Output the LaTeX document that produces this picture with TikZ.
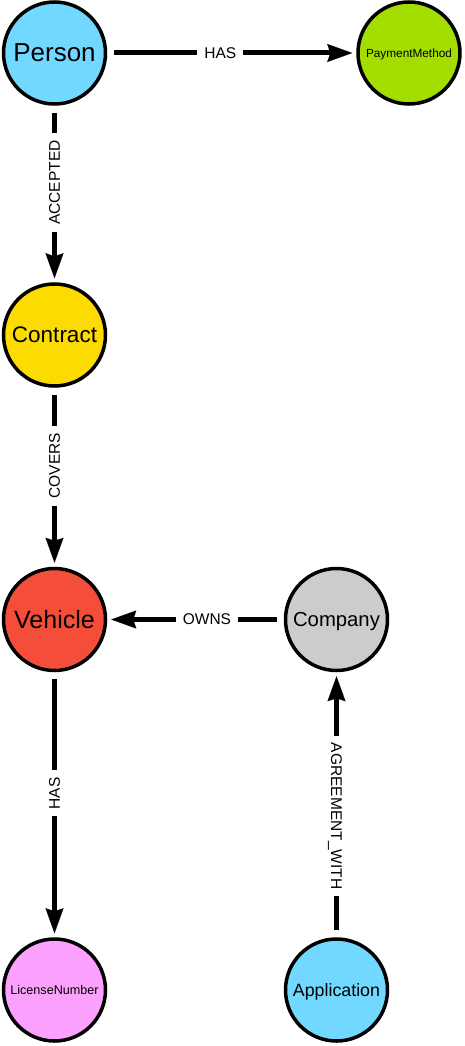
\documentclass[tikz,border=0pt]{standalone}
\usepackage{fontspec}
\setmainfont{Liberation Sans}
\usepackage{xcolor}
\usepackage{tikz}
\usetikzlibrary{arrows.meta, positioning}

\definecolor{nodeblue}{HTML}{73D8FF}
\definecolor{nodegreen}{HTML}{A4DD00}
\definecolor{nodeyellow}{HTML}{FCDC00}
\definecolor{nodered}{HTML}{F44E3B}
\definecolor{nodegrey}{HTML}{CCCCCC}
\definecolor{nodepink}{HTML}{FDA1FF}

\begin{document}
\begin{tikzpicture}[
  entity/.style={circle, draw=black, line width=3.5pt, minimum size=102pt, inner sep=0pt, text depth=0pt, align=center},
  rel/.style={-{Stealth[length=25pt, width=18pt, inset=3pt, line width=0.1pt]}, line width=5pt, draw=black, shorten <=7pt, shorten >=4pt},
  lbl/.style={fill=white, inner xsep=7pt, inner ysep=2pt, text depth=0pt, font=\fontsize{15.5}{18}\selectfont}
]
  \useasboundingbox (0pt,0pt) rectangle (464pt,-1046pt);

  % Top row
  \node[entity, fill=nodeblue, font=\fontsize{26}{30}\selectfont] (person) at (54.5pt,-53pt) {Person};
  \node[entity, fill=nodegreen, font=\fontsize{11.8}{14}\selectfont, right=249pt of person] (payment) {PaymentMethod};
  \draw[rel] (person) -- node[lbl, pos=0.454] {HAS} (payment);

  % Left column
  \node[entity, fill=nodeyellow, font=\fontsize{22.5}{26}\selectfont, below=176.5pt of person] (contract) {Contract};
  \node[entity, fill=nodered, font=\fontsize{25}{29}\selectfont, below=179pt of contract] (vehicle) {Vehicle};
  \node[entity, fill=nodepink, font=\fontsize{12.6}{15}\selectfont, below=265pt of vehicle] (license) {LicenseNumber};
  \draw[rel] (person) -- node[lbl, rotate=90, pos=0.435] {ACCEPTED} (contract);
  \draw[rel] (contract) -- node[lbl, rotate=90, pos=0.436] {COVERS} (vehicle);
  \draw[rel] (vehicle) -- node[lbl, rotate=90, pos=0.457] {HAS} (license);

  % Right column
  \node[entity, fill=nodegrey, font=\fontsize{20.3}{24}\selectfont, right=176.5pt of vehicle] (company) {Company};
  \node[entity, fill=nodeblue, font=\fontsize{17.8}{21}\selectfont, below=265pt of company] (application) {Application};
  \draw[rel] (company) -- node[lbl, pos=0.435] {OWNS} (vehicle);
  \draw[rel] (application) -- node[lbl, rotate=-90, pos=0.457] {AGREEMENT\_WITH} (company);

\end{tikzpicture}
\end{document}
